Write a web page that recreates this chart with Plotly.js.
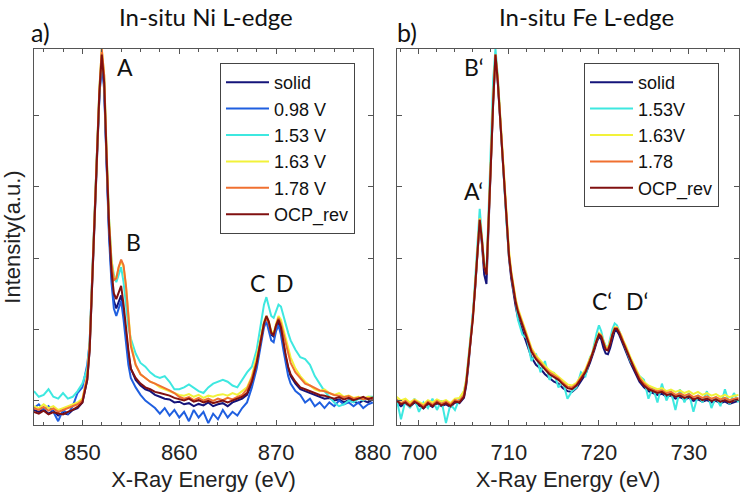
<!DOCTYPE html>
<html>
<head>
<meta charset="utf-8">
<script src="https://cdn.plot.ly/plotly-3.0.1.min.js"></script>
<style>
  html, body { margin: 0; padding: 0; background: #fff; }
  #plot { width: 745px; height: 497px; }
</style>
</head>
<body>
<div id="plot"></div>
<script>
// Ni L-edge energies (eV), denser around the peaks
const niEnergy = [
  845, 845.5, 846, 846.5, 847, 847.5, 848, 848.5, 849, 849.5, 850, 850.5,
  850.75, 851, 851.25, 851.5, 851.75, 852, 852.25, 852.5, 852.75, 853, 853.25, 853.5, 853.75, 854, 854.25, 854.5, 854.75, 855,
  855.5, 856, 856.5, 857, 857.5, 858, 858.5, 859, 859.5, 860, 860.5, 861, 861.5, 862, 862.5, 863, 863.5, 864, 864.5, 865, 865.5, 866, 866.5, 867, 867.5, 868,
  868.25, 868.5, 868.75, 869, 869.25, 869.5, 869.75, 870, 870.25, 870.5, 870.75, 871, 871.25, 871.5,
  872, 872.5, 873, 873.5, 874, 874.5, 875, 875.5, 876, 876.5, 877, 877.5, 878, 878.5, 879, 879.5, 880
];

const niSolid = [
  0.040, 0.035, 0.042, 0.030, 0.038, 0.025, 0.032, 0.028, 0.040, 0.045, 0.060, 0.120,
  0.20, 0.36, 0.54, 0.71, 0.87, 0.975, 0.90, 0.70, 0.52, 0.40, 0.33, 0.31, 0.325, 0.345, 0.30, 0.24, 0.19, 0.15,
  0.12, 0.105, 0.095, 0.09, 0.08, 0.075, 0.07, 0.068, 0.06, 0.062, 0.055, 0.058, 0.05, 0.056, 0.052, 0.06, 0.05, 0.055, 0.058, 0.05, 0.06, 0.065, 0.07, 0.08, 0.11, 0.16,
  0.20, 0.24, 0.27, 0.285, 0.27, 0.24, 0.235, 0.26, 0.275, 0.255, 0.215, 0.18, 0.15, 0.13,
  0.11, 0.095, 0.09, 0.085, 0.078, 0.075, 0.07, 0.072, 0.065, 0.068, 0.06, 0.066, 0.062, 0.058, 0.065, 0.06, 0.068
];
const ni098 = [
  0.045, 0.055, 0.040, 0.050, 0.035, 0.010, 0.040, 0.030, 0.050, 0.085, 0.100, 0.160,
  0.22, 0.37, 0.55, 0.72, 0.87, 0.97, 0.89, 0.69, 0.50, 0.38, 0.31, 0.29, 0.31, 0.33, 0.28, 0.21, 0.16, 0.125,
  0.10, 0.08, 0.065, 0.055, 0.045, 0.03, 0.045, 0.025, 0.04, 0.02, 0.035, 0.01, 0.04, 0.02, 0.035, 0.005, 0.03, 0.015, 0.04, 0.02, 0.035, 0.025, 0.045, 0.06, 0.10, 0.15,
  0.19, 0.23, 0.26, 0.275, 0.25, 0.225, 0.22, 0.25, 0.265, 0.24, 0.20, 0.16, 0.13, 0.11,
  0.09, 0.08, 0.06, 0.07, 0.05, 0.06, 0.045, 0.06, 0.05, 0.065, 0.055, 0.06, 0.05, 0.06, 0.045, 0.055, 0.06
];
const ni153 = [
  0.090, 0.075, 0.080, 0.095, 0.075, 0.070, 0.085, 0.070, 0.075, 0.090, 0.110, 0.150,
  0.22, 0.38, 0.56, 0.73, 0.89, 0.99, 0.92, 0.72, 0.55, 0.44, 0.40, 0.38, 0.40, 0.42, 0.38, 0.31, 0.26, 0.23,
  0.19, 0.165, 0.155, 0.14, 0.13, 0.125, 0.13, 0.115, 0.095, 0.095, 0.10, 0.108, 0.10, 0.09, 0.085, 0.10, 0.11, 0.115, 0.12, 0.115, 0.105, 0.10, 0.12, 0.14, 0.155, 0.20,
  0.24, 0.285, 0.32, 0.34, 0.315, 0.29, 0.285, 0.305, 0.32, 0.315, 0.29, 0.27, 0.245, 0.225,
  0.20, 0.18, 0.175, 0.16, 0.13, 0.11, 0.09, 0.075, 0.06, 0.05, 0.055, 0.065, 0.06, 0.07, 0.065, 0.075, 0.075
];
const ni163 = [
  0.050, 0.045, 0.055, 0.045, 0.050, 0.040, 0.045, 0.050, 0.055, 0.060, 0.070, 0.130,
  0.21, 0.38, 0.56, 0.73, 0.89, 1.0, 0.93, 0.73, 0.55, 0.44, 0.39, 0.39, 0.42, 0.435, 0.42, 0.37, 0.29, 0.22,
  0.16, 0.135, 0.125, 0.115, 0.11, 0.10, 0.095, 0.09, 0.085, 0.08, 0.078, 0.082, 0.075, 0.08, 0.072, 0.078, 0.075, 0.08, 0.082, 0.078, 0.085, 0.08, 0.09, 0.10, 0.13, 0.18,
  0.21, 0.245, 0.275, 0.29, 0.275, 0.25, 0.245, 0.27, 0.29, 0.28, 0.255, 0.225, 0.20, 0.18,
  0.15, 0.13, 0.115, 0.105, 0.095, 0.09, 0.095, 0.085, 0.08, 0.085, 0.075, 0.078, 0.072, 0.075, 0.07, 0.075, 0.072
];
const ni178 = [
  0.045, 0.040, 0.048, 0.038, 0.044, 0.035, 0.040, 0.045, 0.050, 0.055, 0.065, 0.130,
  0.21, 0.38, 0.56, 0.73, 0.89, 1.0, 0.93, 0.72, 0.54, 0.43, 0.385, 0.39, 0.42, 0.44, 0.425, 0.37, 0.29, 0.21,
  0.16, 0.135, 0.125, 0.115, 0.11, 0.105, 0.098, 0.092, 0.085, 0.075, 0.07, 0.074, 0.066, 0.072, 0.065, 0.07, 0.064, 0.07, 0.066, 0.072, 0.068, 0.075, 0.08, 0.095, 0.125, 0.17,
  0.205, 0.24, 0.27, 0.285, 0.27, 0.245, 0.24, 0.265, 0.285, 0.27, 0.245, 0.215, 0.19, 0.165,
  0.14, 0.125, 0.11, 0.105, 0.098, 0.092, 0.09, 0.085, 0.08, 0.078, 0.074, 0.077, 0.07, 0.073, 0.068, 0.072, 0.07
];
const niOcp = [
  0.035, 0.030, 0.038, 0.028, 0.034, 0.030, 0.028, 0.035, 0.040, 0.048, 0.060, 0.120,
  0.20, 0.37, 0.55, 0.72, 0.88, 0.985, 0.91, 0.71, 0.53, 0.41, 0.35, 0.335, 0.35, 0.37, 0.32, 0.25, 0.20, 0.15,
  0.125, 0.11, 0.10, 0.095, 0.088, 0.085, 0.082, 0.078, 0.072, 0.068, 0.065, 0.07, 0.062, 0.066, 0.06, 0.064, 0.058, 0.062, 0.065, 0.06, 0.066, 0.07, 0.075, 0.085, 0.115, 0.165,
  0.20, 0.24, 0.27, 0.29, 0.275, 0.245, 0.24, 0.265, 0.28, 0.26, 0.22, 0.185, 0.155, 0.135,
  0.115, 0.10, 0.095, 0.09, 0.085, 0.08, 0.078, 0.075, 0.07, 0.074, 0.068, 0.072, 0.066, 0.07, 0.075, 0.068, 0.073
];

// Fe L-edge energies (eV)
const feEnergy = [
  697.5, 698, 698.5, 699, 699.5, 700, 700.5, 701, 701.5, 702, 702.5, 703, 703.5, 704, 704.5, 705,
  705.25, 705.5, 705.75, 706, 706.25, 706.5, 706.75, 707, 707.25, 707.5, 707.75, 708, 708.25, 708.5, 708.75, 709, 709.25, 709.5, 709.75, 710, 710.25, 710.5, 710.75, 711,
  711.5, 712, 712.5, 713, 713.5, 714, 714.5, 715, 715.5, 716, 716.5, 717, 717.5, 718, 718.5, 719,
  719.25, 719.5, 719.75, 720, 720.25, 720.5, 720.75, 721, 721.25, 721.5, 721.75, 722, 722.25, 722.5, 722.75, 723,
  723.5, 724, 724.5, 725, 725.5, 726, 726.5, 727, 727.5, 728, 728.5, 729, 729.5, 730, 730.5, 731, 731.5, 732, 732.5, 733, 733.5, 734, 734.5, 735, 735.5
];

const feSolid = [
  0.06, 0.05, 0.058, 0.048, 0.06, 0.052, 0.044, 0.056, 0.048, 0.058, 0.05, 0.055, 0.048, 0.06, 0.058, 0.072,
  0.105, 0.16, 0.225, 0.28, 0.365, 0.455, 0.54, 0.48, 0.40, 0.375, 0.57, 0.70, 0.86, 0.98, 0.915, 0.815, 0.715, 0.615, 0.525, 0.445, 0.39, 0.35, 0.315, 0.285,
  0.25, 0.21, 0.18, 0.16, 0.15, 0.135, 0.125, 0.115, 0.11, 0.098, 0.09, 0.088, 0.098, 0.115, 0.135, 0.165,
  0.18, 0.20, 0.22, 0.235, 0.228, 0.205, 0.19, 0.188, 0.205, 0.23, 0.25, 0.25, 0.24, 0.225, 0.208, 0.195,
  0.165, 0.14, 0.115, 0.10, 0.09, 0.085, 0.08, 0.083, 0.075, 0.078, 0.07, 0.074, 0.068, 0.072, 0.064, 0.068, 0.062, 0.066, 0.06, 0.064, 0.058, 0.062, 0.056, 0.06, 0.064
];
const fe153 = [
  0.07, 0.015, 0.065, 0.045, 0.07, 0.035, 0.06, 0.045, 0.07, 0.04, 0.065, 0.005, 0.055, 0.04, 0.07, 0.09,
  0.12, 0.175, 0.24, 0.30, 0.39, 0.48, 0.575, 0.50, 0.43, 0.41, 0.60, 0.74, 0.92, 1.0, 0.93, 0.83, 0.72, 0.62, 0.53, 0.45, 0.40, 0.36, 0.33, 0.28,
  0.24, 0.23, 0.17, 0.19, 0.14, 0.17, 0.12, 0.14, 0.10, 0.115, 0.07, 0.09, 0.10, 0.14, 0.13, 0.18,
  0.19, 0.22, 0.245, 0.265, 0.25, 0.225, 0.21, 0.205, 0.23, 0.255, 0.27, 0.265, 0.25, 0.235, 0.22, 0.205,
  0.17, 0.15, 0.13, 0.12, 0.07, 0.10, 0.06, 0.11, 0.065, 0.09, 0.04, 0.095, 0.06, 0.085, 0.035, 0.08, 0.06, 0.09, 0.045, 0.075, 0.05, 0.095, 0.055, 0.085, 0.06
];
const fe163 = [
  0.075, 0.065, 0.07, 0.06, 0.068, 0.062, 0.055, 0.066, 0.06, 0.068, 0.062, 0.066, 0.058, 0.07, 0.072, 0.09,
  0.12, 0.175, 0.235, 0.29, 0.375, 0.465, 0.55, 0.495, 0.425, 0.405, 0.585, 0.71, 0.87, 0.985, 0.925, 0.83, 0.73, 0.63, 0.545, 0.465, 0.41, 0.37, 0.335, 0.31,
  0.275, 0.235, 0.205, 0.185, 0.17, 0.158, 0.145, 0.138, 0.128, 0.118, 0.108, 0.105, 0.112, 0.13, 0.148, 0.178,
  0.19, 0.21, 0.23, 0.245, 0.24, 0.222, 0.208, 0.205, 0.222, 0.245, 0.26, 0.26, 0.25, 0.238, 0.222, 0.21,
  0.18, 0.155, 0.13, 0.115, 0.105, 0.10, 0.095, 0.098, 0.09, 0.094, 0.088, 0.092, 0.085, 0.09, 0.082, 0.088, 0.08, 0.085, 0.078, 0.082, 0.075, 0.08, 0.074, 0.078, 0.08
];
const fe178 = [
  0.068, 0.058, 0.064, 0.054, 0.065, 0.058, 0.05, 0.062, 0.054, 0.064, 0.056, 0.062, 0.054, 0.066, 0.064, 0.08,
  0.115, 0.17, 0.232, 0.288, 0.372, 0.462, 0.548, 0.492, 0.422, 0.402, 0.582, 0.705, 0.865, 0.985, 0.92, 0.825, 0.725, 0.625, 0.535, 0.455, 0.405, 0.365, 0.33, 0.305,
  0.27, 0.23, 0.20, 0.18, 0.165, 0.152, 0.14, 0.132, 0.124, 0.112, 0.102, 0.10, 0.108, 0.126, 0.144, 0.174,
  0.188, 0.208, 0.228, 0.242, 0.238, 0.218, 0.204, 0.202, 0.218, 0.242, 0.258, 0.258, 0.248, 0.234, 0.218, 0.204,
  0.175, 0.15, 0.125, 0.11, 0.10, 0.094, 0.09, 0.092, 0.085, 0.088, 0.08, 0.084, 0.078, 0.082, 0.074, 0.078, 0.072, 0.076, 0.07, 0.074, 0.068, 0.072, 0.066, 0.07, 0.072
];
const feOcp = [
  0.065, 0.055, 0.06, 0.05, 0.062, 0.055, 0.045, 0.058, 0.05, 0.06, 0.052, 0.058, 0.05, 0.062, 0.06, 0.075,
  0.11, 0.165, 0.23, 0.285, 0.37, 0.46, 0.545, 0.49, 0.42, 0.40, 0.58, 0.70, 0.86, 0.985, 0.915, 0.82, 0.72, 0.62, 0.53, 0.45, 0.40, 0.36, 0.325, 0.30,
  0.265, 0.225, 0.195, 0.175, 0.16, 0.148, 0.135, 0.128, 0.12, 0.108, 0.098, 0.095, 0.105, 0.122, 0.14, 0.17,
  0.185, 0.205, 0.225, 0.24, 0.235, 0.215, 0.20, 0.198, 0.215, 0.24, 0.255, 0.255, 0.245, 0.23, 0.215, 0.20,
  0.17, 0.145, 0.12, 0.105, 0.095, 0.09, 0.085, 0.088, 0.08, 0.082, 0.075, 0.078, 0.072, 0.076, 0.068, 0.072, 0.066, 0.07, 0.064, 0.068, 0.062, 0.066, 0.06, 0.065, 0.068
];

const niNames = ['solid', '0.98 V', '1.53 V', '1.63 V', '1.78 V', 'OCP_rev'];
const niSeries = [niSolid, ni098, ni153, ni163, ni178, niOcp];
const niColors = ['#14147a', '#1f5fe0', '#3ee8e0', '#f2f23a', '#f07030', '#801010'];

const feNames = ['solid', '1.53V', '1.63V', '1.78', 'OCP_rev'];
const feSeries = [feSolid, fe153, fe163, fe178, feOcp];
const feColors = ['#14147a', '#3ee8e0', '#f2f23a', '#f07030', '#801010'];

const AX_FONT = '"Liberation Sans", Arial, sans-serif';
const TXT_FONT = 'Lato, "Noto Sans", sans-serif';

let traces = [];
niSeries.forEach(function (ys, i) {
    traces.push({
        name: niNames[i],
        x: niEnergy,
        y: ys,
        type: 'scatter',
        mode: 'lines',
        line: { color: niColors[i], width: 2 },
        xaxis: 'x',
        yaxis: 'y',
        legend: 'legend',
        legendgroup: 'a' + i
    });
});
feSeries.forEach(function (ys, i) {
    traces.push({
        name: feNames[i],
        x: feEnergy,
        y: ys,
        type: 'scatter',
        mode: 'lines',
        line: { color: feColors[i], width: 2 },
        xaxis: 'x2',
        yaxis: 'y2',
        legend: 'legend2',
        legendgroup: 'b' + i
    });
});

function xAxis(domain, range, anchor) {
    return {
        domain: domain,
        range: range,
        anchor: anchor,
        dtick: 10,
        ticks: 'inside',
        ticklen: 5,
        tickcolor: '#555',
        showline: true,
        linecolor: '#555',
        linewidth: 1,
        mirror: 'ticks',
        showgrid: false,
        zeroline: false,
        ticklabelstandoff: 8,
        tickfont: { family: AX_FONT, size: 22, color: '#222' },
        minor: { dtick: 2, ticks: 'inside', ticklen: 3, tickcolor: '#555', showgrid: false },
        title: { text: 'X-Ray Energy (eV)', font: { family: AX_FONT, size: 22, color: '#222' }, standoff: 7 }
    };
}

function yAxis(anchor, title) {
    return {
        domain: [0.1449, 0.9014],
        range: [0, 1],
        anchor: anchor,
        tick0: 0.064,
        dtick: 0.19,
        ticks: 'inside',
        ticklen: 5,
        tickcolor: '#555',
        showticklabels: false,
        showline: true,
        linecolor: '#555',
        linewidth: 1,
        mirror: 'ticks',
        showgrid: false,
        zeroline: false,
        title: title ? { text: title, font: { family: AX_FONT, size: 22, color: '#222' }, standoff: 6 } : { text: '' }
    };
}

function legendBox(x) {
    return {
        x: x,
        y: 0.8732,
        xanchor: 'left',
        yanchor: 'top',
        bgcolor: '#ffffff',
        bordercolor: '#444',
        borderwidth: 1,
        tracegroupgap: 0,
        itemwidth: 43,
        font: { family: AX_FONT, size: 18, color: '#111' }
    };
}

function label(text, x, y, xref, yref, size) {
    return {
        text: text, x: x, y: y, xref: xref, yref: yref,
        showarrow: false, xanchor: 'center', yanchor: 'middle',
        font: { family: TXT_FONT, size: size, color: '#111' }
    };
}

let layout = {
    width: 745,
    height: 497,
    margin: { l: 0, r: 0, t: 0, b: 0 },
    paper_bgcolor: '#ffffff',
    plot_bgcolor: '#ffffff',
    showlegend: true,
    xaxis: xAxis([0.0456, 0.5007], [845, 880.01], 'y'),
    yaxis: yAxis('x', 'Intensity(a.u.)'),
    xaxis2: xAxis([0.5329, 0.9919], [697.56, 735.56], 'y2'),
    yaxis2: yAxis('x2', ''),
    legend: legendBox(0.2953),
    legend2: legendBox(0.7839),
    annotations: [
        label('In-situ Ni L-edge', 0.2765, 0.9658, 'paper', 'paper', 24),
        label('In-situ Fe L-edge', 0.7866, 0.9658, 'paper', 'paper', 24),
        label('a)', 0.0537, 0.9356, 'paper', 'paper', 25),
        label('b)', 0.5463, 0.9356, 'paper', 'paper', 25),
        label('A', 854.4, 0.952, 'x', 'y', 23),
        label('B', 855.3, 0.487, 'x', 'y', 23),
        label('C', 868.1, 0.378, 'x', 'y', 23),
        label('D', 870.9, 0.378, 'x', 'y', 23),
        label('B\u2018', 706.1, 0.952, 'x2', 'y2', 23),
        label('A\u2018', 706.1, 0.622, 'x2', 'y2', 23),
        label('C\u2018', 720.3, 0.33, 'x2', 'y2', 23),
        label('D\u2018', 724.2, 0.33, 'x2', 'y2', 23)
    ]
};

Plotly.newPlot(document.getElementById('plot'), traces, layout, { staticPlot: true });
</script>
</body>
</html>
